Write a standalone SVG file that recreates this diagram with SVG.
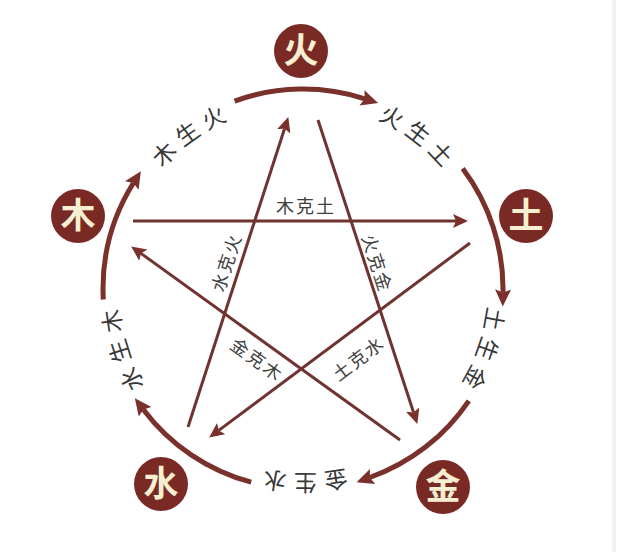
<svg xmlns="http://www.w3.org/2000/svg" xmlns:xlink="http://www.w3.org/1999/xlink" width="640" height="552" viewBox="0 0 640 552">
<style>
.arc{fill:none;stroke:#7a302b;stroke-width:5;stroke-linecap:butt}
.star{fill:none;stroke:#6f3430;stroke-width:3}
.node circle{fill:#7a2a25}
.node text{fill:#f7efd2;font-family:"Noto Sans CJK SC","Noto Sans",sans-serif;font-weight:bold;font-size:35px;text-anchor:middle}
.alab{fill:#383838;font-family:"Noto Sans CJK SC","Noto Sans",sans-serif;font-size:23px;letter-spacing:8px;dominant-baseline:central}
.slab{fill:#404040;font-family:"Noto Sans CJK SC","Noto Sans",sans-serif;font-size:18px;letter-spacing:2px;text-anchor:middle;dominant-baseline:central}
</style>
<defs>
<marker id="ah" markerUnits="userSpaceOnUse" markerWidth="20" markerHeight="20" refX="3" refY="9" orient="auto">
<path d="M0,1 L17,9 L0,17 L3,9 Z" fill="#7a302b"/>
</marker>
<marker id="as" markerUnits="userSpaceOnUse" markerWidth="18" markerHeight="18" refX="3" refY="7" orient="auto">
<path d="M0,0 L15,7 L0,14 L3,7 Z" fill="#7a302b"/>
</marker>
<path id="ring" d="M303,94 A195,195 0 1 1 303,484 A195,195 0 1 1 303,94"/>
</defs>
<rect width="640" height="552" fill="#ffffff"/>
<line x1="614" y1="0" x2="614" y2="552" stroke="#f1f1f1" stroke-width="4"/>
<g id="connectors">
<path class="arc" d="M234.6,101.1 A200,200 0 0 1 364.8,98.8" marker-end="url(#ah)"/>
<path class="arc" d="M462.7,168.6 A200,200 0 0 1 503,292.5" marker-end="url(#ah)"/>
<path class="arc" d="M468.8,400.8 A200,200 0 0 1 369.8,477.5" marker-end="url(#ah)"/>
<path class="arc" d="M251.2,482.2 A200,200 0 0 1 143.3,409.4" marker-end="url(#ah)"/>
<path class="arc" d="M103.3,299.5 A200,200 0 0 1 133.4,183" marker-end="url(#ah)"/>
<line class="star" x1="133" y1="221" x2="456" y2="221" marker-end="url(#as)"/>
<line class="star" x1="318" y1="120" x2="413.6" y2="412.5" marker-end="url(#as)"/>
<line class="star" x1="400" y1="440" x2="140.9" y2="253.4" marker-end="url(#as)"/>
<line class="star" x1="188" y1="427" x2="284.6" y2="128.5" marker-end="url(#as)"/>
<line class="star" x1="470" y1="243" x2="218.8" y2="430.4" marker-end="url(#as)"/>
</g>
<g id="arc-labels">
<text class="alab"><textPath href="#ring" startOffset="128" text-anchor="middle">火生土</textPath></text>
<text class="alab"><textPath href="#ring" startOffset="372" text-anchor="middle">土生金</textPath></text>
<text class="alab"><textPath href="#ring" startOffset="614" text-anchor="middle">金生水</textPath></text>
<text class="alab"><textPath href="#ring" startOffset="859" text-anchor="middle">水生木</textPath></text>
<text class="alab"><textPath href="#ring" startOffset="1104" text-anchor="middle">木生火</textPath></text>
</g>
<g id="star-labels">
<text class="slab" x="306" y="205">木克土</text>
<text class="slab" transform="translate(225,263) rotate(-72)" x="1" y="0">水克火</text>
<text class="slab" transform="translate(378,262) rotate(72)" x="1" y="0">火克金</text>
<text class="slab" transform="translate(257,358) rotate(36)" x="1" y="0">金克木</text>
<text class="slab" transform="translate(357,358) rotate(-37)" x="1" y="0">土克水</text>
</g>
<g id="node-fire" class="node"><circle cx="301" cy="51" r="27"/><text x="301" y="63">火</text></g>
<g id="node-earth" class="node"><circle cx="526" cy="216" r="27"/><text x="526" y="228">土</text></g>
<g id="node-metal" class="node"><circle cx="443" cy="487" r="27"/><text x="443" y="499">金</text></g>
<g id="node-water" class="node"><circle cx="161" cy="484" r="27"/><text x="161" y="496">水</text></g>
<g id="node-wood" class="node"><circle cx="78" cy="216" r="27"/><text x="78" y="228">木</text></g>
</svg>
